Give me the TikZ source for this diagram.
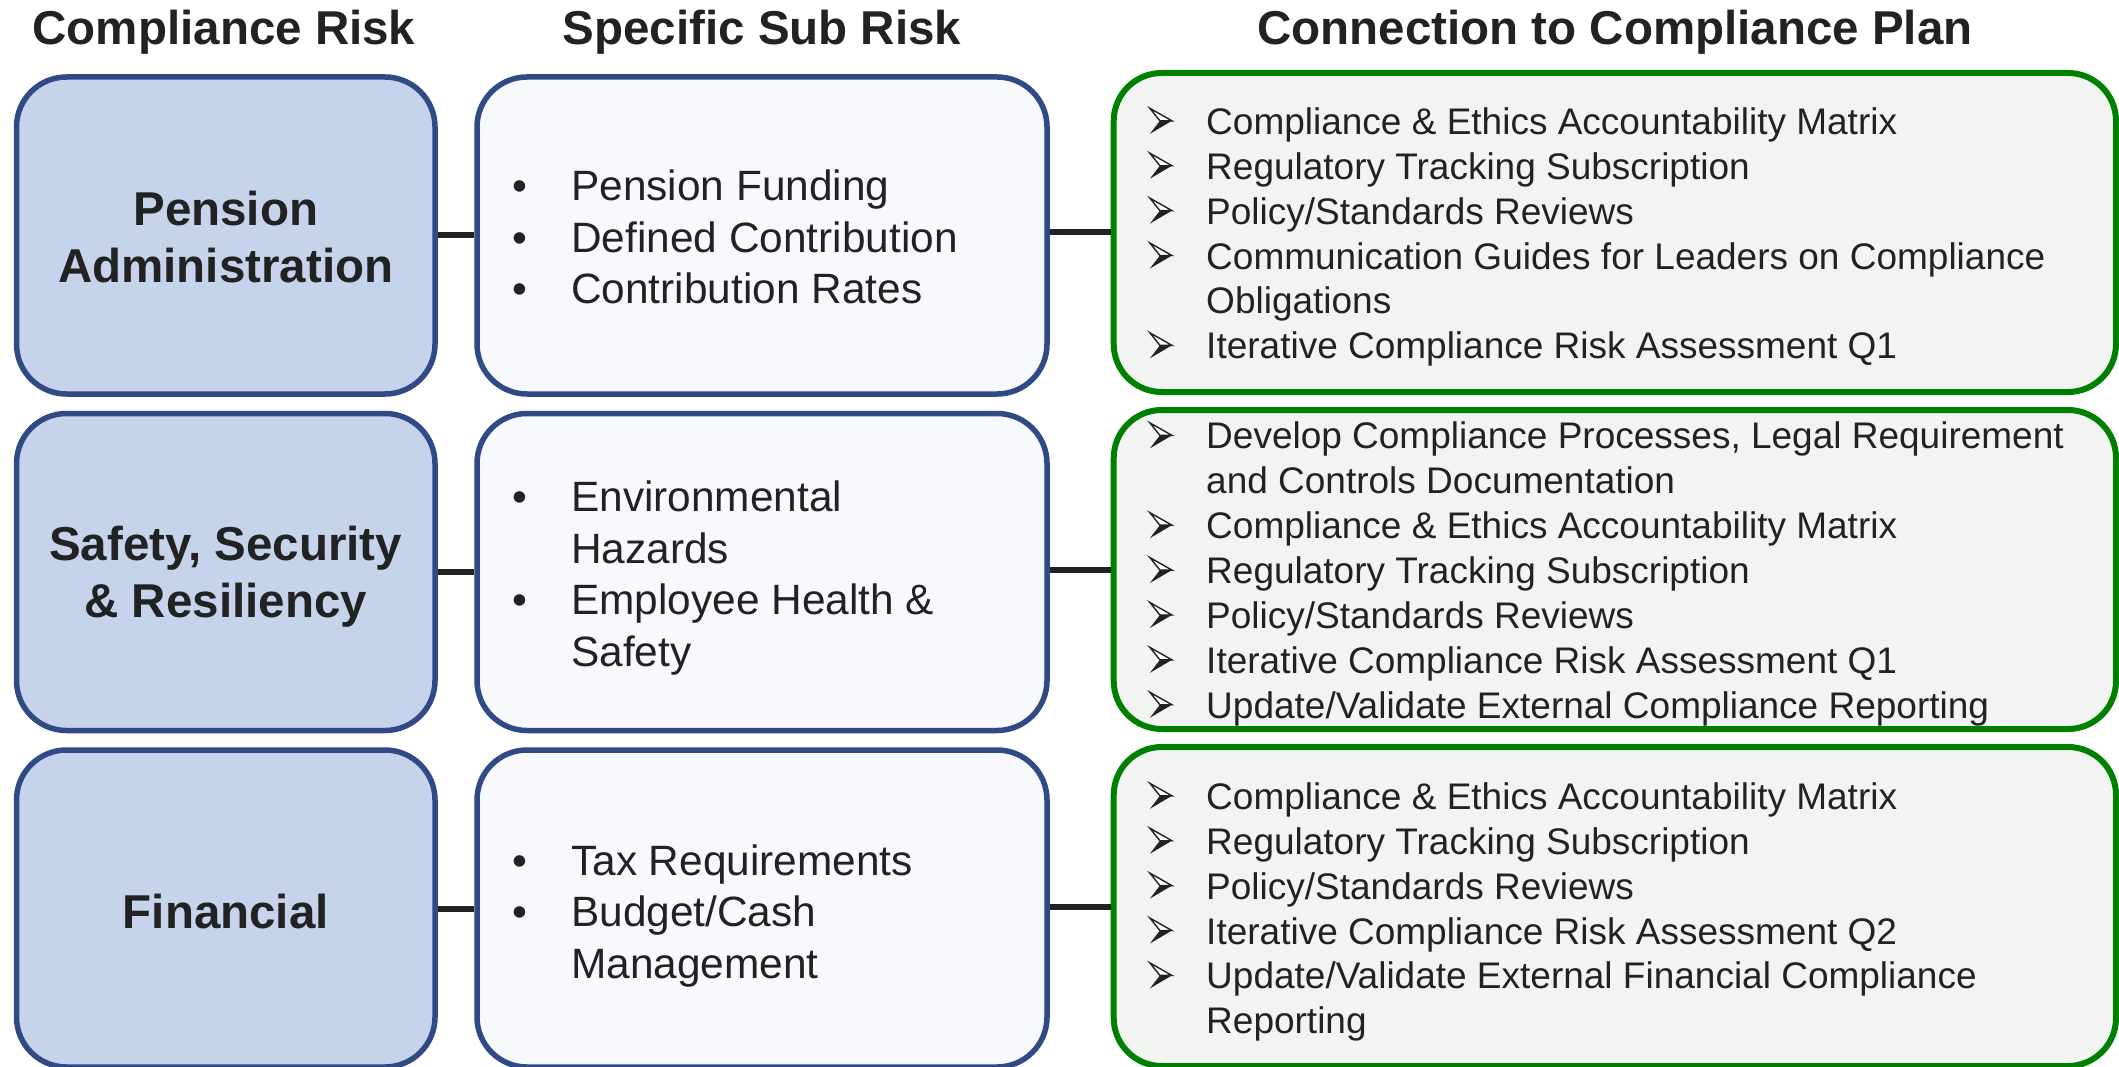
\documentclass[tikz,border=0pt]{standalone}
\usepackage{fontspec}
\setmainfont{Liberation Sans}

\definecolor{ink}{RGB}{34,34,34}
\definecolor{blueedge}{RGB}{47,74,133}
\definecolor{bluefill}{RGB}{198,211,235}
\definecolor{subfill}{RGB}{247,249,253}
\definecolor{greenedge}{RGB}{0,128,0}
\definecolor{greenfill}{RGB}{242,244,241}
\definecolor{linkcol}{RGB}{34,34,34}

% arrowhead bullet: light upper half, solid lower half
\newcommand{\arrowmark}{\tikz[baseline=0pt, x=1pt, y=1pt, line join=miter]{
  \filldraw[fill=white, draw=ink, line width=1.4pt] (2,26) -- (24,13.5) -- (12,13.5) -- cycle;
  \fill[ink] (2,0.5) -- (24,13.5) -- (12,13.5) -- cycle;}}

% list entries: round bullet for sub risks, arrowhead for plan items
\newcommand{\bitem}[1]{\makebox[59pt][l]{\textbullet}#1}
\newcommand{\bcont}[1]{\makebox[59pt][l]{}#1}
\newcommand{\aitem}[1]{\makebox[57pt][l]{\arrowmark}#1}
\newcommand{\acont}[1]{\makebox[57pt][l]{}#1}

\tikzset{
  riskbox/.style={draw=blueedge, fill=bluefill, line width=5.5pt, rounded corners=50pt,
    minimum width=418.5pt, minimum height=317pt, inner sep=0pt},
  subbox/.style={draw=blueedge, fill=subfill, line width=5.5pt, rounded corners=50pt,
    minimum width=570pt, minimum height=317pt, inner sep=0pt},
  planbox/.style={draw=greenedge, fill=greenfill, line width=6pt, rounded corners=48pt,
    minimum width=1002.3pt, minimum height=319pt, inner sep=0pt},
  link/.style={draw=linkcol, line width=6pt},
  colhead/.style={font=\fontsize{47.5}{57}\selectfont\bfseries, text=ink, anchor=base, inner sep=0pt},
  risklabel/.style={font=\fontsize{47.5}{57}\selectfont\bfseries, text=ink, align=center, inner sep=0pt},
  sublist/.style={font=\fontsize{42.4}{51.4}\selectfont, text=ink, align=left, anchor=west, inner sep=0pt},
  planlist/.style={font=\fontsize{37}{44.9}\selectfont, text=ink, align=left, anchor=west, inner sep=0pt},
}

\begin{document}
\begin{tikzpicture}[x=1pt, y=-1pt]
\useasboundingbox (0,0) rectangle (2119,1067);

% column headings
\node[colhead] (h1) at (224,44.5) {Compliance Risk};
\node[colhead] (h2) at (762,44.5) {Specific Sub Risk};
\node[colhead] (h3) at (1615,44.5) {Connection to Compliance Plan};

% risk boxes
\node[riskbox] (r1) at (225.75,235.5) {};
\node[riskbox] (r2) at (225.75,572) {};
\node[riskbox] (r3) at (225.75,908.5) {};

% sub risk boxes
\node[subbox] (s1) at (762,235.5) {};
\node[subbox] (s2) at (762,572) {};
\node[subbox] (s3) at (762,908.5) {};

% compliance plan boxes
\node[planbox] (p1) at (1614.85,232.5) {};
\node[planbox] (p2) at (1614.85,569.5) {};
\node[planbox] (p3) at (1614.85,906.5) {};

% connectors
\draw[link] (r1.east) -- (s1.west);
\draw[link] (r2.east) -- (s2.west);
\draw[link] (r3.east) -- (s3.west);
\draw[link] (s1.east |- p1.west) -- (p1.west);
\draw[link] (s2.east |- p2.west) -- (p2.west);
\draw[link] (s3.east |- p3.west) -- (p3.west);

% risk names
\node[risklabel] (r1t) at (225.75,237) {Pension\\Administration};
\node[risklabel] (r2t) at (225.75,577) {Safety, Security\\\& Resiliency};
\node[risklabel] (r3t) at (225.75,912) {Financial};

% sub risks
\node[sublist] (s1t) at (512,237) {\bitem{Pension Funding}\\\bitem{Defined Contribution}\\\bitem{Contribution Rates}};
\node[sublist] (s2t) at (512,578) {\bitem{Environmental}\\\bcont{Hazards}\\\bitem{Employee Health \&}\\\bcont{Safety}};
\node[sublist] (s3t) at (512,916) {\bitem{Tax Requirements}\\\bitem{Budget/Cash}\\\bcont{Management}};

% plan items
\node[planlist] (p1t) at (1149,237) {\aitem{Compliance \& Ethics Accountability Matrix}\\
  \aitem{Regulatory Tracking Subscription}\\
  \aitem{Policy/Standards Reviews}\\
  \aitem{Communication Guides for Leaders on Compliance}\\
  \acont{Obligations}\\
  \aitem{Iterative Compliance Risk Assessment Q1}};
\node[planlist] (p2t) at (1149,574) {\aitem{Develop Compliance Processes, Legal Requirement}\\
  \acont{and Controls Documentation}\\
  \aitem{Compliance \& Ethics Accountability Matrix}\\
  \aitem{Regulatory Tracking Subscription}\\
  \aitem{Policy/Standards Reviews}\\
  \aitem{Iterative Compliance Risk Assessment Q1}\\
  \aitem{Update/Validate External Compliance Reporting}};
\node[planlist] (p3t) at (1149,912) {\aitem{Compliance \& Ethics Accountability Matrix}\\
  \aitem{Regulatory Tracking Subscription}\\
  \aitem{Policy/Standards Reviews}\\
  \aitem{Iterative Compliance Risk Assessment Q2}\\
  \aitem{Update/Validate External Financial Compliance}\\
  \acont{Reporting}};
\end{tikzpicture}
\end{document}
